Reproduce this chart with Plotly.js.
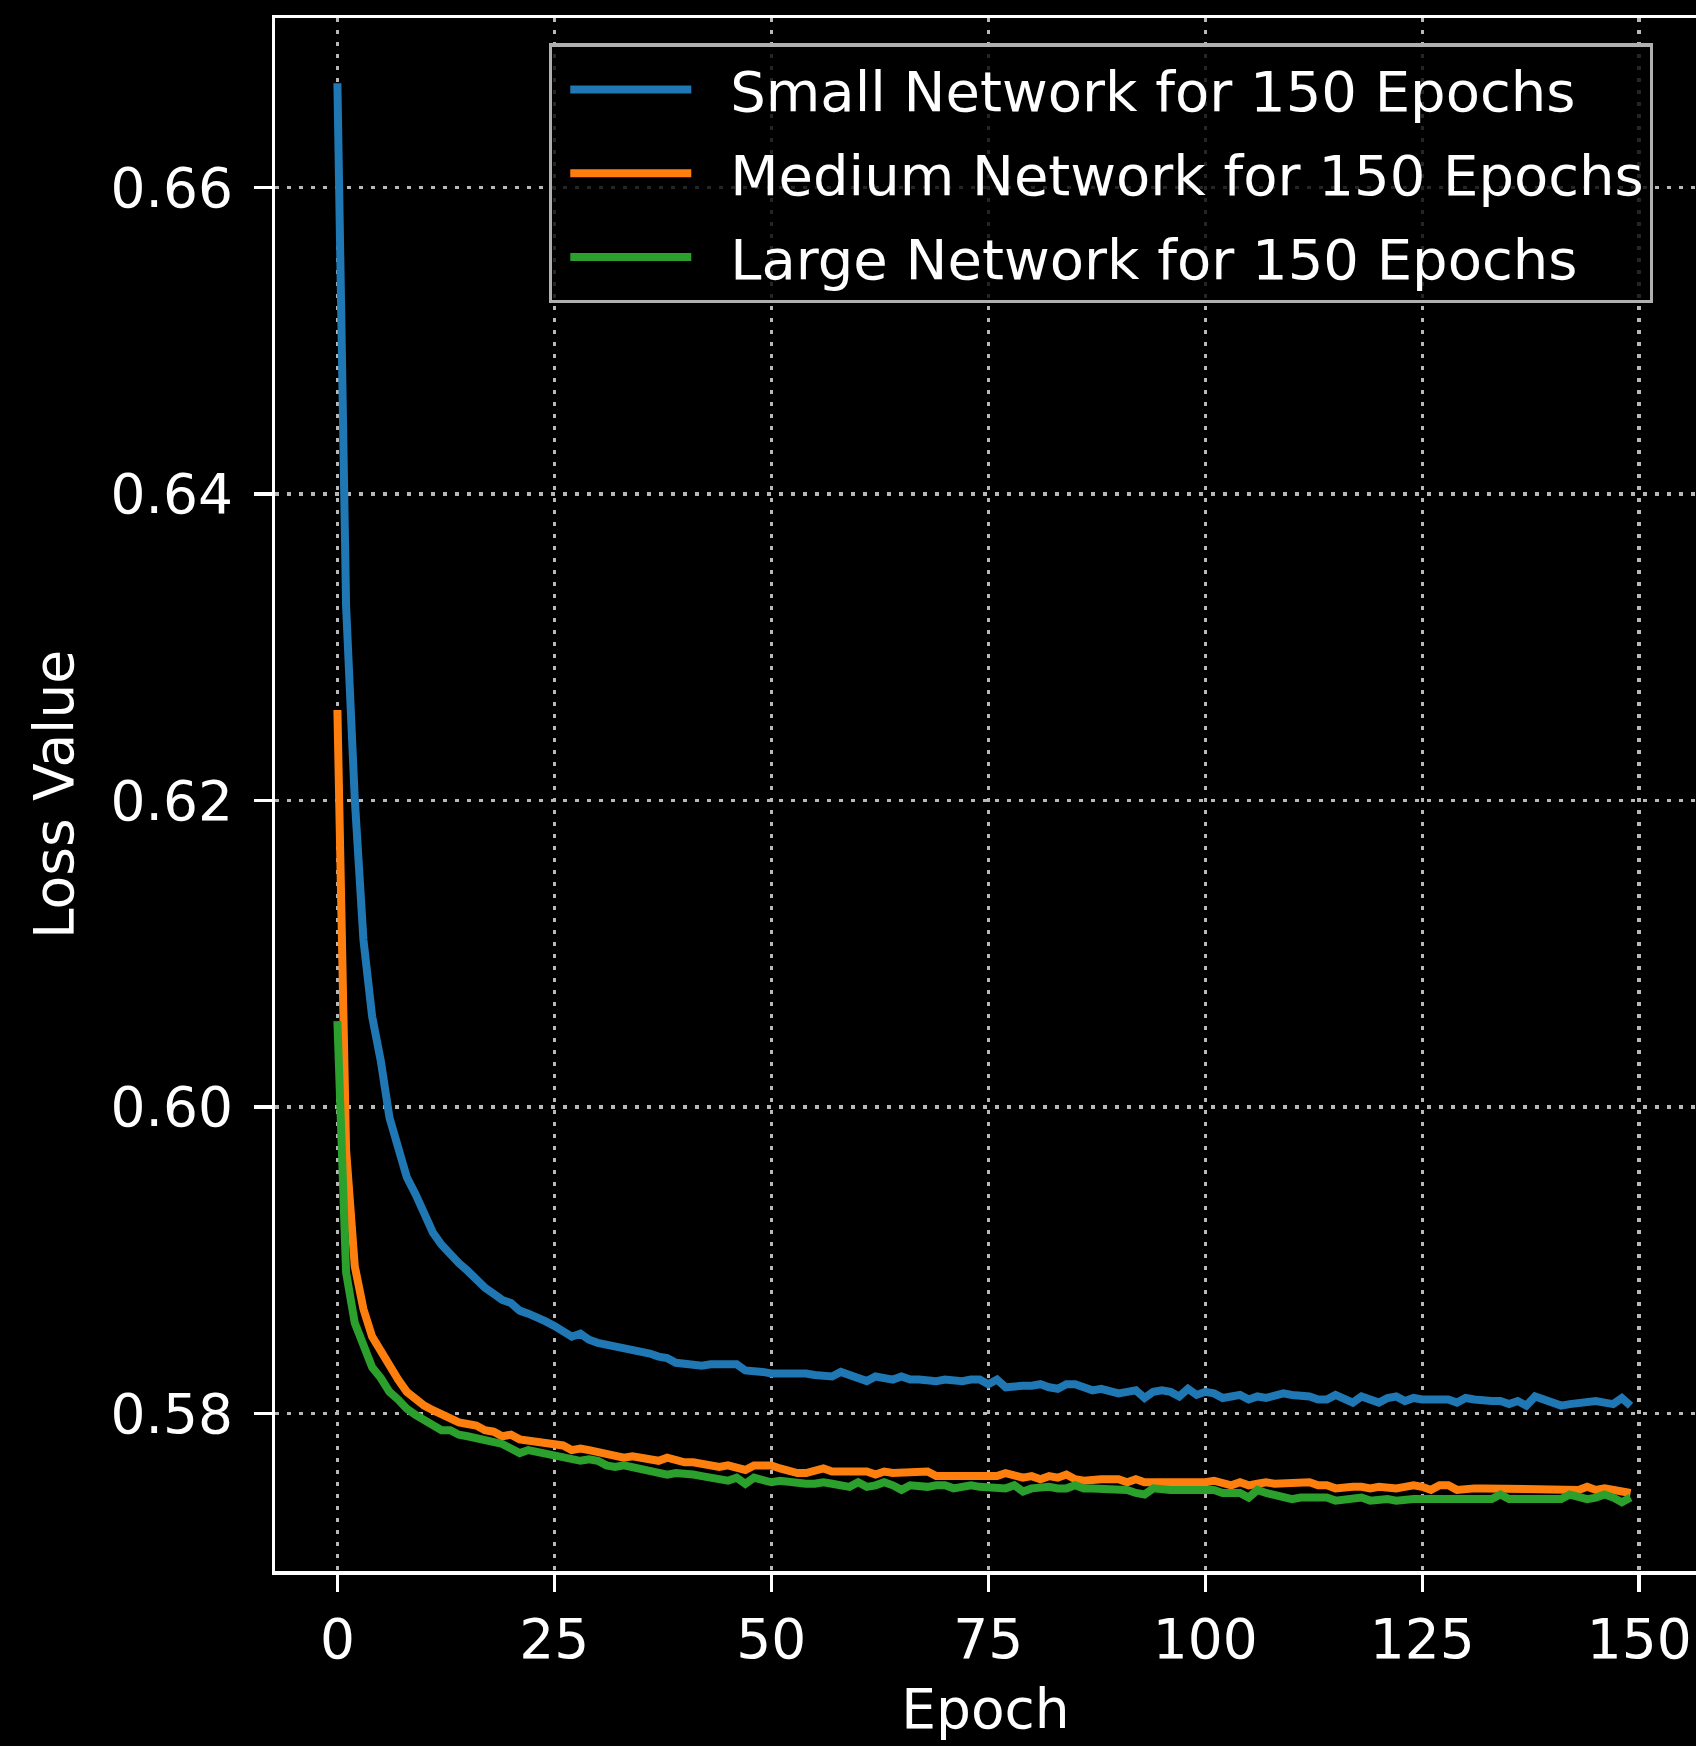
<!DOCTYPE html>
<html>
<head>
<meta charset="utf-8">
<script src="https://cdn.plot.ly/plotly-3.0.1.min.js"></script>
<style>html,body{margin:0;padding:0;background:#000;}#chart{width:1696px;height:1746px;}</style>
</head>
<body>
<div id="chart"></div>
<script>
const seriesNames = ["Small Network for 150 Epochs", "Medium Network for 150 Epochs", "Large Network for 150 Epochs"];
const seriesColors = ["#1f77b4", "#ff7f0e", "#2ca02c"];

const smallLoss = [
0.6668,0.6327,0.6201,0.6109,0.6059,0.6030,0.5993,0.5974,0.5954,0.5943,
0.5929,0.5918,0.5910,0.5903,0.5898,0.5893,0.5887,0.5882,0.5878,0.5874,
0.5872,0.5867,0.5865,0.5863,0.5860,0.5857,0.5853,0.5850,0.5852,0.5848,
0.5846,0.5845,0.5844,0.5842,0.5841,0.5840,0.5839,0.5837,0.5836,0.5833,
0.5832,0.5832,0.5831,0.5832,0.5832,0.5831,0.5832,0.5828,0.5828,0.5827,
0.5826,0.5826,0.5826,0.5827,0.5826,0.5825,0.5825,0.5824,0.5827,0.5825,
0.5823,0.5821,0.5824,0.5823,0.5822,0.5824,0.5822,0.5822,0.5821,0.5821,
0.5822,0.5821,0.5821,0.5822,0.5822,0.5819,0.5822,0.5817,0.5818,0.5818,
0.5818,0.5819,0.5817,0.5816,0.5819,0.5819,0.5817,0.5815,0.5816,0.5815,
0.5813,0.5814,0.5815,0.5810,0.5814,0.5815,0.5814,0.5811,0.5816,0.5812,
0.5814,0.5813,0.5810,0.5811,0.5812,0.5809,0.5811,0.5810,0.5812,0.5813,
0.5812,0.5812,0.5811,0.5809,0.5809,0.5812,0.5810,0.5807,0.5811,0.5809,
0.5807,0.5810,0.5811,0.5808,0.5810,0.5809,0.5809,0.5810,0.5809,0.5807,
0.5810,0.5809,0.5808,0.5808,0.5808,0.5806,0.5808,0.5805,0.5811,0.5809,
0.5807,0.5805,0.5806,0.5807,0.5807,0.5808,0.5807,0.5806,0.5810,0.5805
];

const mediumLoss = [
0.6259,0.5972,0.5896,0.5868,0.5850,0.5840,0.5830,0.5822,0.5814,0.5809,
0.5805,0.5802,0.5799,0.5797,0.5794,0.5793,0.5792,0.5789,0.5788,0.5785,
0.5786,0.5783,0.5782,0.5782,0.5780,0.5779,0.5779,0.5776,0.5777,0.5776,
0.5775,0.5774,0.5773,0.5771,0.5772,0.5771,0.5770,0.5769,0.5771,0.5769,
0.5768,0.5768,0.5767,0.5767,0.5765,0.5766,0.5765,0.5763,0.5766,0.5766,
0.5766,0.5764,0.5762,0.5761,0.5761,0.5762,0.5764,0.5762,0.5762,0.5761,
0.5761,0.5762,0.5760,0.5762,0.5761,0.5761,0.5762,0.5761,0.5762,0.5759,
0.5759,0.5760,0.5760,0.5760,0.5760,0.5760,0.5759,0.5761,0.5759,0.5758,
0.5759,0.5757,0.5759,0.5758,0.5760,0.5757,0.5756,0.5757,0.5757,0.5757,
0.5757,0.5755,0.5757,0.5755,0.5755,0.5754,0.5754,0.5754,0.5754,0.5754,
0.5755,0.5756,0.5754,0.5753,0.5755,0.5753,0.5754,0.5755,0.5754,0.5754,
0.5754,0.5754,0.5755,0.5753,0.5753,0.5751,0.5752,0.5752,0.5752,0.5751,
0.5752,0.5751,0.5751,0.5752,0.5753,0.5752,0.5750,0.5753,0.5753,0.5750,
0.5751,0.5751,0.5751,0.5751,0.5751,0.5751,0.5750,0.5751,0.5751,0.5750,
0.5751,0.5751,0.5751,0.5750,0.5752,0.5750,0.5751,0.5750,0.5749,0.5748
];

const largeLoss = [
0.6056,0.5892,0.5859,0.5844,0.5830,0.5823,0.5814,0.5809,0.5803,0.5799,
0.5796,0.5792,0.5789,0.5789,0.5786,0.5785,0.5784,0.5783,0.5781,0.5780,
0.5777,0.5774,0.5776,0.5775,0.5774,0.5773,0.5772,0.5770,0.5769,0.5770,
0.5769,0.5766,0.5765,0.5766,0.5765,0.5764,0.5763,0.5762,0.5760,0.5761,
0.5761,0.5760,0.5759,0.5758,0.5758,0.5756,0.5758,0.5754,0.5758,0.5756,
0.5755,0.5756,0.5755,0.5754,0.5754,0.5754,0.5755,0.5754,0.5753,0.5752,
0.5755,0.5752,0.5753,0.5755,0.5753,0.5750,0.5753,0.5752,0.5752,0.5753,
0.5753,0.5751,0.5752,0.5753,0.5752,0.5752,0.5751,0.5751,0.5753,0.5749,
0.5751,0.5752,0.5752,0.5751,0.5751,0.5753,0.5751,0.5751,0.5751,0.5751,
0.5751,0.5750,0.5748,0.5747,0.5751,0.5750,0.5750,0.5750,0.5750,0.5750,
0.5749,0.5750,0.5748,0.5748,0.5748,0.5745,0.5750,0.5748,0.5747,0.5745,
0.5744,0.5745,0.5745,0.5745,0.5745,0.5743,0.5744,0.5744,0.5745,0.5743,
0.5744,0.5744,0.5743,0.5744,0.5744,0.5744,0.5744,0.5745,0.5744,0.5744,
0.5744,0.5744,0.5745,0.5744,0.5747,0.5744,0.5744,0.5744,0.5744,0.5744,
0.5744,0.5744,0.5747,0.5745,0.5744,0.5745,0.5747,0.5745,0.5742,0.5745
];

const epochs = smallLoss.map((_, i) => i);
const xTickVals = [0, 25, 50, 75, 100, 125, 150];
const yTickVals = [0.58, 0.60, 0.62, 0.64, 0.66];
const xTitle = "Epoch";
const yTitle = "Loss Value";

const allSeries = [smallLoss, mediumLoss, largeLoss];
const traces = allSeries.map((ys, k) => ({
  type: "scatter",
  mode: "lines",
  x: epochs,
  y: ys,
  name: seriesNames[k],
  legendgroup: "g" + k,
  line: { color: seriesColors[k], width: 8 }
}));

const FONT = "DejaVu Sans, sans-serif";
const layout = {
  width: 1696,
  height: 1746,
  paper_bgcolor: "#000000",
  plot_bgcolor: "#000000",
  margin: { l: 275, r: 0, t: 18, b: 175, pad: 0 },
  font: { family: FONT, size: 55, color: "#ffffff" },
  showlegend: true,
  xaxis: {
    range: [-7.19, 156.54],
    tickvals: xTickVals,
    ticks: "outside",
    ticklen: 17.5,
    tickwidth: 3.5,
    tickcolor: "#ffffff",
    showline: true,
    linecolor: "#ffffff",
    linewidth: 3.5,
    mirror: true,
    showgrid: true,
    gridcolor: "#b8b8b8",
    gridwidth: 3.5,
    griddash: "4px,8px",
    zeroline: false,
    tickfont: { family: FONT, size: 55, color: "#ffffff" },
    title: { text: xTitle, font: { family: FONT, size: 55, color: "#ffffff" }, standoff: 20 }
  },
  yaxis: {
    range: [0.569708, 0.671062],
    tickvals: yTickVals,
    tickformat: ".2f",
    ticks: "outside",
    ticklen: 17.5,
    tickwidth: 3.5,
    tickcolor: "#ffffff",
    ticklabelstandoff: 10,
    showline: true,
    linecolor: "#ffffff",
    linewidth: 3.5,
    mirror: false,
    showgrid: true,
    gridcolor: "#b8b8b8",
    gridwidth: 3.5,
    griddash: "4px,8px",
    zeroline: false,
    tickfont: { family: FONT, size: 55, color: "#ffffff" },
    title: { text: yTitle, font: { family: FONT, size: 55, color: "#ffffff" }, standoff: 20 }
  },
  legend: {
    x: 0.1928,
    y: 0.9837,
    xanchor: "left",
    yanchor: "top",
    bgcolor: "rgba(0,0,0,0.8)",
    bordercolor: "#b0b0b0",
    borderwidth: 3.3,
    font: { family: FONT, size: 56, color: "#ffffff" },
    itemwidth: 168,
    tracegroupgap: 8,
    traceorder: "grouped"
  }
};

Plotly.newPlot("chart", traces, layout, { displayModeBar: false, staticPlot: true }).then(function (gd) {
  // legend key: shorter sample line with a small inset, like the reference
  gd.querySelectorAll(".legend .legendlines path").forEach(function (p) {
    p.setAttribute("d", "M18,0h121");
  });
});
</script>
</body>
</html>
